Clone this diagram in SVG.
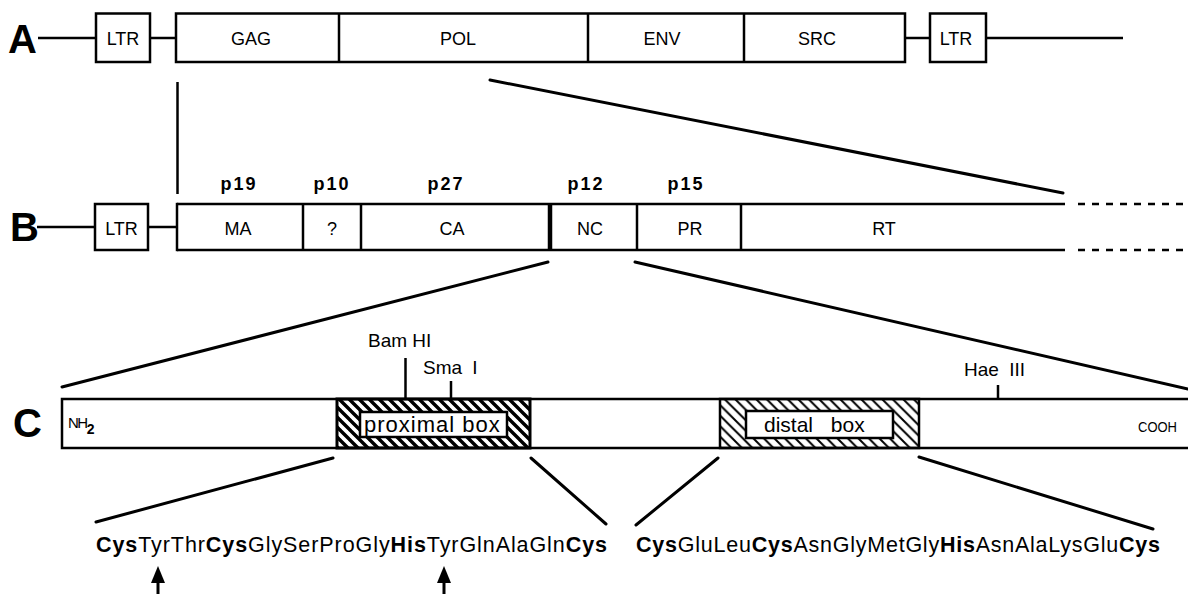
<svg xmlns="http://www.w3.org/2000/svg" width="1188" height="594" viewBox="0 0 1188 594">
<defs>
<pattern id="hatchP" patternUnits="userSpaceOnUse" width="10" height="10">
<path d="M0,0 L10,10 M9,-1 L11,1 M-1,9 L1,11" stroke="#000" stroke-width="3.4"/>
</pattern>
<pattern id="hatchD" patternUnits="userSpaceOnUse" width="10.5" height="10.5">
<path d="M0,0 L10.5,10.5 M9.5,-1 L11.5,1 M-1,9.5 L1,11.5" stroke="#000" stroke-width="2"/>
</pattern>
<style>
.box{fill:#fff;stroke:#000;stroke-width:2.5}
.ln{stroke:#000;stroke-width:2.5;fill:none}
.dg{stroke:#000;stroke-width:3;fill:none;stroke-linecap:round}
.t{font-family:"Liberation Sans",Arial,sans-serif;fill:#000}
.lab{font-size:18px;text-anchor:middle}
.big{font-size:40px;font-weight:bold}
.p{font-size:18px;font-weight:bold;text-anchor:middle;letter-spacing:2px}
.site{font-size:19px}
.seq{font-size:21.5px}
.b{font-weight:bold}
</style>
</defs>

<g id="rowA">
<text class="t big" x="8" y="53">A</text>
<line class="ln" x1="38" y1="38" x2="96" y2="38"/>
<g id="A-LTR1"><rect class="box" x="96" y="13.5" width="54" height="48.5"/><text class="t lab" x="123" y="45">LTR</text></g>
<line class="ln" x1="150" y1="38" x2="176" y2="38"/>
<g id="A-genes">
<rect class="box" x="176" y="13.5" width="729" height="48.5"/>
<line class="ln" x1="339" y1="13.5" x2="339" y2="62"/>
<line class="ln" x1="588" y1="13.5" x2="588" y2="62"/>
<line class="ln" x1="744" y1="13.5" x2="744" y2="62"/>
<text class="t lab" x="251" y="45">GAG</text>
<text class="t lab" x="458" y="45">POL</text>
<text class="t lab" x="662" y="45">ENV</text>
<text class="t lab" x="817" y="45">SRC</text>
</g>
<line class="ln" x1="905" y1="38" x2="930" y2="38"/>
<g id="A-LTR2"><rect class="box" x="930" y="13.5" width="56" height="48.5"/><text class="t lab" x="956" y="45">LTR</text></g>
<line class="ln" x1="986" y1="38" x2="1123" y2="38"/>
</g>

<g id="rowB">
<text class="t big" x="10" y="241">B</text>
<line class="ln" x1="37" y1="227" x2="95" y2="227"/>
<g id="B-LTR"><rect class="box" x="95" y="204" width="53" height="46"/><text class="t lab" x="121.5" y="235">LTR</text></g>
<line class="ln" x1="148" y1="227" x2="177" y2="227"/>
<g id="B-proteins">
<line class="ln" x1="177" y1="204" x2="1065" y2="204"/>
<line class="ln" x1="177" y1="250" x2="1065" y2="250"/>
<line class="ln" x1="177" y1="202.8" x2="177" y2="251.2"/>
<line class="ln" x1="303" y1="204" x2="303" y2="250"/>
<line class="ln" x1="361" y1="204" x2="361" y2="250"/>
<line class="ln" x1="550" y1="204" x2="550" y2="250" style="stroke-width:4.5"/>
<line class="ln" x1="637" y1="204" x2="637" y2="250"/>
<line class="ln" x1="741" y1="204" x2="741" y2="250"/>
<line class="ln" x1="1078" y1="204" x2="1188" y2="204" stroke-dasharray="7 7"/>
<line class="ln" x1="1078" y1="250" x2="1188" y2="250" stroke-dasharray="7 7"/>
<text class="t lab" x="238" y="235">MA</text>
<text class="t lab" x="332" y="235">?</text>
<text class="t lab" x="452" y="235">CA</text>
<text class="t lab" x="590" y="235">NC</text>
<text class="t lab" x="690" y="235">PR</text>
<text class="t lab" x="884" y="235">RT</text>
<text class="t p" x="239" y="190">p19</text>
<text class="t p" x="332" y="190">p10</text>
<text class="t p" x="446" y="190">p27</text>
<text class="t p" x="586" y="190">p12</text>
<text class="t p" x="686" y="190">p15</text>
</g>
</g>

<g id="rowC">
<text class="t big" x="13" y="437">C</text>
<g id="C-bar">
<rect class="box" x="62" y="399" width="1140" height="49"/>
<text class="t" x="68" y="428" style="font-size:15px;letter-spacing:-1.5px">NH<tspan dy="6" style="font-size:14px;font-weight:bold">2</tspan></text>
<text class="t" x="1138" y="432" style="font-size:15px" textLength="39" lengthAdjust="spacingAndGlyphs">COOH</text>
</g>
<g id="proximal">
<rect x="337" y="399" width="193" height="49" fill="url(#hatchP)" stroke="#000" stroke-width="3"/>
<rect class="box" x="360" y="412" width="147" height="25"/>
<text class="t" x="364" y="432" style="font-size:22px;letter-spacing:1px">proximal box</text>
</g>
<g id="distal">
<rect x="720" y="399" width="199" height="49" fill="url(#hatchD)" stroke="#000" stroke-width="2.5"/>
<rect class="box" x="746" y="411" width="147" height="27"/>
<text class="t" x="764" y="432" style="font-size:21px;word-spacing:12px">distal box</text>
</g>
<g id="sites">
<text class="t site" x="368" y="347">Bam HI</text>
<text class="t site" x="423" y="374" style="word-spacing:5px">Sma I</text>
<text class="t site" x="964" y="376" style="word-spacing:5px">Hae III</text>
</g>
</g>

<g id="sequences">
<text class="t seq" x="96" y="552" textLength="511" lengthAdjust="spacing"><tspan class="b">Cys</tspan>TyrThr<tspan class="b">Cys</tspan>GlySerProGly<tspan class="b">His</tspan>TyrGlnAlaGln<tspan class="b">Cys</tspan></text>
<text class="t seq" x="636" y="552" textLength="524" lengthAdjust="spacing"><tspan class="b">Cys</tspan>GluLeu<tspan class="b">Cys</tspan>AsnGlyMetGly<tspan class="b">His</tspan>AsnAlaLysGlu<tspan class="b">Cys</tspan></text>
</g>

<g id="connectors">
<line class="ln" x1="177.5" y1="82" x2="177.5" y2="194"/>
<line class="dg" x1="490" y1="80" x2="1063" y2="193"/>
<line class="dg" x1="548" y1="262" x2="62" y2="387"/>
<line class="dg" x1="635" y1="262" x2="1188" y2="389"/>
<line class="ln" x1="405.5" y1="358" x2="405.5" y2="399"/>
<line class="ln" x1="451" y1="381" x2="451" y2="399"/>
<line class="ln" x1="998" y1="385" x2="998" y2="399"/>
<line class="dg" x1="333" y1="458" x2="96" y2="522"/>
<line class="dg" x1="531" y1="458" x2="606" y2="524"/>
<line class="dg" x1="718" y1="458" x2="636" y2="525"/>
<line class="dg" x1="919" y1="457" x2="1153" y2="529"/>
<g id="arrow1"><polygon points="158,566 151,583 165,583" fill="#000"/><line class="ln" x1="158" y1="582" x2="158" y2="594" style="stroke-width:3"/></g>
<g id="arrow2"><polygon points="444,566 437,583 451,583" fill="#000"/><line class="ln" x1="444" y1="582" x2="444" y2="594" style="stroke-width:3"/></g>
</g>
</svg>
